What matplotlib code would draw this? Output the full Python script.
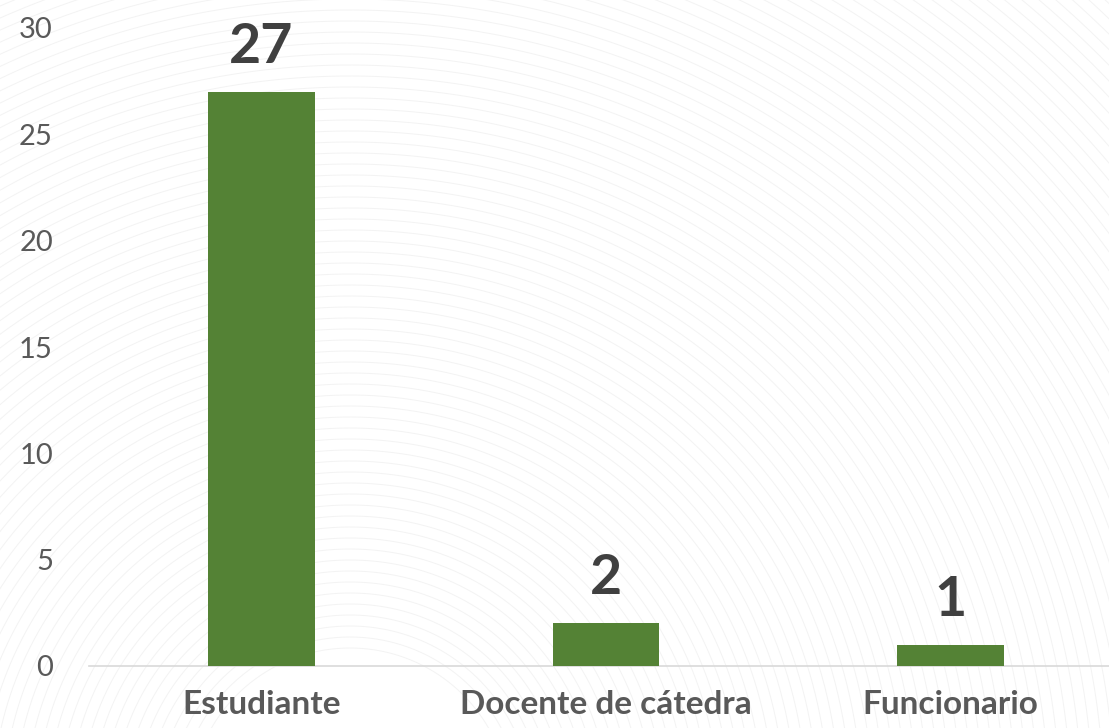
import numpy as np
import matplotlib.pyplot as plt

categorias = ['Estudiante', 'Docente de cátedra', 'Funcionario']
cantidad = [27, 2, 1]
ticks_y = [0, 5, 10, 15, 20, 25, 30]

verde = '#548235'
gris_texto = '#595959'

plt.rcParams['font.family'] = ['Lato', 'DejaVu Sans']

fig = plt.figure(figsize=(11.09, 7.28), dpi=100)

# fondo decorativo: arcos concentricos muy tenues
fondo = fig.add_axes([0, 0, 1, 1], zorder=0)
fondo.set_xlim(0, 1109)
fondo.set_ylim(0, 728)
fondo.axis('off')
t = np.linspace(0, np.pi, 400)
for r in np.arange(160, 1300, 11):
    fondo.plot(350 + r * np.cos(t), -80 + r * np.sin(t), color='#f3f3f3', lw=0.7)

ax = fig.add_axes([89 / 1109, 62 / 728, 1034 / 1109, 638 / 728], zorder=1)
ax.patch.set_visible(False)

x = range(len(categorias))
barras = ax.bar(x, cantidad, width=0.31, color=verde, zorder=3)

for b, v in zip(barras, cantidad):
    ax.annotate(str(v), (b.get_x() + b.get_width() / 2, v),
                xytext=(0, 21), textcoords='offset points',
                ha='center', va='baseline', fontsize=40, fontweight='bold',
                color='#404040')

ax.set_xlim(-0.5, 2.5)
ax.set_ylim(0, 30)
ax.set_yticks(ticks_y)
ax.set_xticks(list(x))
ax.set_xticklabels(categorias, fontsize=24, fontweight='bold', color=gris_texto)
ax.tick_params(axis='y', length=0, pad=26, labelsize=21, labelcolor=gris_texto)
ax.tick_params(axis='x', length=0, pad=17)

for lado in ['top', 'right', 'left']:
    ax.spines[lado].set_visible(False)
ax.spines['bottom'].set_color('#d9d9d9')
ax.spines['bottom'].set_linewidth(1.2)

fig.savefig('out.png', dpi=100)
